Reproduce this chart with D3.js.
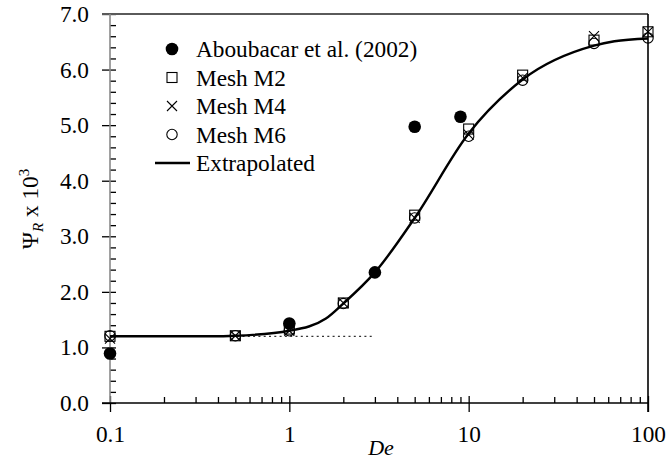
<!DOCTYPE html>
<html>
<head>
<meta charset="utf-8">
<script src="https://cdn.jsdelivr.net/npm/d3@7"></script>
<style>
  html, body { margin: 0; padding: 0; background: #fff; }
  svg { display: block; }
  text { font-family: "Liberation Serif", "Times New Roman", serif; fill: #000; }
</style>
</head>
<body>
<svg id="chart" width="668" height="466"></svg>
<script>
// ---- data ----
const meshDe = [0.1, 0.5, 1, 2, 5, 10, 20, 50, 100];
const meshM2 = [1.20, 1.21, 1.33, 1.80, 3.38, 4.93, 5.90, 6.53, 6.68];
const meshM4 = [1.16, 1.21, 1.30, 1.80, 3.33, 4.83, 5.85, 6.60, 6.68];
const meshM6 = [1.21, 1.21, 1.30, 1.79, 3.33, 4.80, 5.81, 6.47, 6.57];

const aboDe = [0.1, 1, 3, 5, 9];
const aboVal = [0.89, 1.43, 2.35, 4.97, 5.15];

const extDe = [0.1, 0.37, 0.5, 1, 1.6, 2, 3, 5, 10, 20, 50, 65, 100];
const extVal = [1.2, 1.2, 1.21, 1.30, 1.52, 1.79, 2.35, 3.33, 4.85, 5.82, 6.43, 6.51, 6.56];

const refDe = [0.1, 3];
const refVal = [1.2, 1.2];

const xMajor = [0.1, 1, 10, 100];
const yMajor = [0, 1, 2, 3, 4, 5, 6, 7];

const legendLabels = ["Aboubacar et al. (2002)", "Mesh M2", "Mesh M4", "Mesh M6", "Extrapolated"];

// ---- layout ----
const svg = d3.select("#chart");
const L = 110, R = 648, T = 14, B = 403;
const FS = 23.3;
const x = d3.scaleLog().domain([0.1, 100]).range([L, R]);
const y = d3.scaleLinear().domain([0, 7]).range([B, T]);

const xMinor = [];
[0.1, 1, 10].forEach(d => { for (let k = 2; k <= 9; k++) xMinor.push(d * k); });
const yMinor = d3.range(0, 7.001, 0.2).filter(v => Math.abs(v - Math.round(v)) > 1e-6);

// x minor ticks (inside)
svg.append("g").attr("transform", `translate(0,${B})`)
  .call(d3.axisBottom(x).tickValues(xMinor).tickSize(-6).tickFormat(""))
  .call(g => g.select(".domain").remove())
  .call(g => g.selectAll("line").attr("stroke", "#000").attr("stroke-width", 1.3));
// x major ticks inside
svg.append("g").attr("transform", `translate(0,${B})`)
  .call(d3.axisBottom(x).tickValues(xMajor).tickSize(-7).tickFormat(""))
  .call(g => g.select(".domain").remove())
  .call(g => g.selectAll("line").attr("stroke", "#000").attr("stroke-width", 1.3));
// x major ticks outside + labels
svg.append("g").attr("transform", `translate(0,${B})`)
  .call(d3.axisBottom(x).tickValues(xMajor).tickSize(9).tickPadding(13).tickFormat(d3.format("~g")))
  .call(g => g.select(".domain").remove())
  .call(g => g.selectAll("line").attr("stroke", "#000").attr("stroke-width", 1.3))
  .call(g => g.selectAll("text").attr("font-size", FS).attr("font-family", "Liberation Serif, Times New Roman, serif"));

// y minor ticks (inside)
svg.append("g").attr("transform", `translate(${L},0)`)
  .call(d3.axisLeft(y).tickValues(yMinor).tickSize(-6).tickFormat(""))
  .call(g => g.select(".domain").remove())
  .call(g => g.selectAll("line").attr("stroke", "#000").attr("stroke-width", 1.3));
// y major ticks crossing + labels
svg.append("g").attr("transform", `translate(${L},0)`)
  .call(d3.axisLeft(y).tickValues(yMajor).tickSize(-6).tickFormat(""))
  .call(g => g.select(".domain").remove())
  .call(g => g.selectAll("line").attr("stroke", "#000").attr("stroke-width", 1.3));
svg.append("g").attr("transform", `translate(${L},0)`)
  .call(d3.axisLeft(y).tickValues(yMajor).tickSize(8).tickPadding(13).tickFormat(d3.format(".1f")))
  .call(g => g.select(".domain").remove())
  .call(g => g.selectAll("line").attr("stroke", "#000").attr("stroke-width", 1.3))
  .call(g => g.selectAll("text").attr("font-size", FS).attr("font-family", "Liberation Serif, Times New Roman, serif"));

// frame
svg.append("line").attr("x1", L - 8).attr("x2", R).attr("y1", T).attr("y2", T)
  .attr("stroke", "#5a5a5a").attr("stroke-width", 2);
svg.append("line").attr("x1", L).attr("x2", L).attr("y1", T).attr("y2", B)
  .attr("stroke", "#8a8a8a").attr("stroke-width", 1.6);
svg.append("line").attr("x1", L - 8).attr("x2", R).attr("y1", B).attr("y2", B)
  .attr("stroke", "#000").attr("stroke-width", 1.6);
svg.append("line").attr("x1", R).attr("x2", R).attr("y1", T).attr("y2", B + 9)
  .attr("stroke", "#000").attr("stroke-width", 1.6);

// dotted reference line
svg.append("path")
  .datum(refDe.map((d, i) => [d, refVal[i]]))
  .attr("d", d3.line().x(d => x(d[0])).y(d => y(d[1])))
  .attr("fill", "none").attr("stroke", "#333").attr("stroke-width", 1.3)
  .attr("stroke-dasharray", "2,3.3");

// extrapolated line
svg.append("path")
  .datum(extDe.map((d, i) => [d, extVal[i]]))
  .attr("d", d3.line().x(d => x(d[0])).y(d => y(d[1])).curve(d3.curveMonotoneX))
  .attr("fill", "none").attr("stroke", "#000").attr("stroke-width", 2.4);

// marker drawers
const S = 5;
function square(g, cx, cy) {
  g.append("rect").attr("x", cx - S).attr("y", cy - S).attr("width", 2 * S).attr("height", 2 * S)
    .attr("fill", "none").attr("stroke", "#000").attr("stroke-width", 1.1);
}
function cross(g, cx, cy) {
  g.append("path").attr("d", `M${cx - S},${cy - S}L${cx + S},${cy + S}M${cx - S},${cy + S}L${cx + S},${cy - S}`)
    .attr("fill", "none").attr("stroke", "#000").attr("stroke-width", 1.1);
}
function ring(g, cx, cy) {
  g.append("circle").attr("cx", cx).attr("cy", cy).attr("r", 5.2)
    .attr("fill", "none").attr("stroke", "#000").attr("stroke-width", 1.1);
}
function dot(g, cx, cy) {
  g.append("circle").attr("cx", cx).attr("cy", cy).attr("r", 6.3).attr("fill", "#000");
}

const gm = svg.append("g");
meshDe.forEach((d, i) => square(gm, x(d), y(meshM2[i])));
meshDe.forEach((d, i) => cross(gm, x(d), y(meshM4[i])));
meshDe.forEach((d, i) => ring(gm, x(d), y(meshM6[i])));
aboDe.forEach((d, i) => dot(gm, x(d), y(aboVal[i])));

// legend
const lgX = 172, lgTextX = 196, lgY0 = 49, lgDy = 28.5;
const lg = svg.append("g");
const drawers = [dot, square, cross, ring, null];
legendLabels.forEach((lab, i) => {
  const cy = lgY0 + i * lgDy;
  if (drawers[i]) drawers[i](lg, lgX, cy);
  else lg.append("line").attr("x1", 155).attr("x2", 190).attr("y1", cy).attr("y2", cy)
    .attr("stroke", "#000").attr("stroke-width", 2.4);
  lg.append("text").attr("x", lgTextX).attr("y", cy).attr("dy", "0.35em")
    .attr("font-size", FS).text(lab);
});

// axis titles
svg.append("text").attr("x", 381).attr("y", 455).attr("text-anchor", "middle")
  .attr("font-size", 22).attr("font-style", "italic").text("De");

const yt = svg.append("text").attr("transform", "translate(38,209) rotate(-90)")
  .attr("text-anchor", "middle").attr("font-size", FS);
yt.append("tspan").text("Ψ");
yt.append("tspan").attr("font-style", "italic").attr("font-size", 15).attr("dy", 5).text("R");
yt.append("tspan").attr("dy", -5).text(" x 10");
yt.append("tspan").attr("font-size", 15).attr("dy", -9).text("3");
</script>
</body>
</html>
